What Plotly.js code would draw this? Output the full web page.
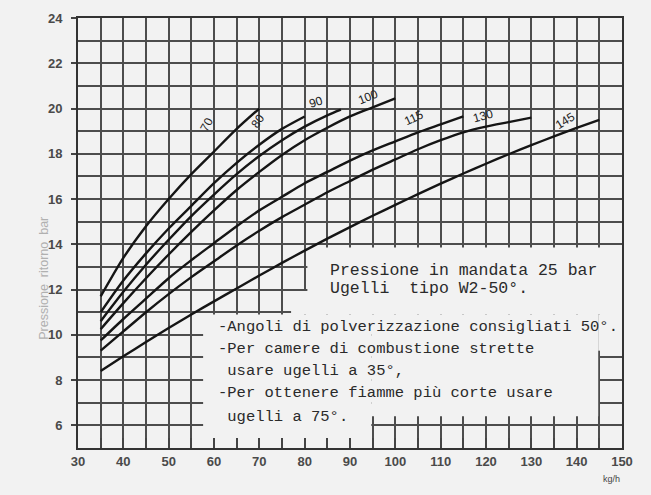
<!DOCTYPE html>
<html>
<head>
<meta charset="utf-8">
<script src="https://cdn.plot.ly/plotly-3.0.1.min.js"></script>
<style>html,body{margin:0;padding:0;background:#f2f2f2;}#chart{width:651px;height:495px;}</style>
</head>
<body>
<div id="chart"></div>
<script>
// Curve data: flow (kg/h) vs return pressure (bar), one curve per nozzle size
const curveNames = ["70", "80", "90", "100", "115", "130", "145"];
const x70  = [35, 40, 45, 50, 55, 60, 65, 70];
const y70  = [11.7, 13.4, 14.8, 16.0, 17.1, 18.1, 19.1, 20.0];
const x80  = [35, 40, 45, 50, 55, 60, 65, 70, 75, 80];
const y80  = [11.0, 12.4, 13.6, 14.7, 15.7, 16.7, 17.6, 18.4, 19.1, 19.65];
const x90  = [35, 40, 45, 50, 55, 60, 65, 70, 75, 80, 85, 88];
const y90  = [10.6, 11.9, 13.1, 14.2, 15.25, 16.2, 17.1, 17.9, 18.6, 19.2, 19.7, 19.95];
const x100 = [35, 40, 45, 50, 55, 60, 65, 70, 75, 80, 85, 90, 95, 100];
const y100 = [10.25, 11.4, 12.5, 13.55, 14.55, 15.5, 16.4, 17.2, 17.95, 18.6, 19.15, 19.65, 20.05, 20.45];
const x115 = [35, 40, 45, 50, 55, 60, 65, 70, 75, 80, 85, 90, 95, 100, 105, 110, 115];
const y115 = [9.75, 10.7, 11.6, 12.5, 13.3, 14.05, 14.8, 15.5, 16.1, 16.7, 17.2, 17.7, 18.15, 18.55, 18.95, 19.3, 19.65];
const x130 = [35, 40, 45, 50, 55, 60, 65, 70, 75, 80, 85, 90, 95, 100, 105, 110, 115, 120, 125, 130];
const y130 = [9.3, 10.15, 11.0, 11.8, 12.55, 13.25, 13.95, 14.6, 15.2, 15.75, 16.3, 16.8, 17.3, 17.75, 18.2, 18.6, 18.95, 19.2, 19.4, 19.6];
const x145 = [35, 40, 45, 50, 55, 60, 65, 70, 75, 80, 85, 90, 95, 100, 105, 110, 115, 120, 125, 130, 135, 140, 145];
const y145 = [8.4, 9.05, 9.68, 10.3, 10.9, 11.48, 12.05, 12.62, 13.18, 13.72, 14.25, 14.76, 15.26, 15.74, 16.22, 16.68, 17.13, 17.56, 17.98, 18.38, 18.77, 19.14, 19.5];

// Curve label positions (kg/h, bar) and angles
const labelX = [58.5, 69.7, 82.5, 94.0, 104.0, 119.3, 137.4];
const labelY = [19.3, 19.45, 20.3, 20.5, 19.6, 19.65, 19.45];
const labelAngle = [-62, -55, -18, -22, -25, -15, -32];

// Tick labels
const xTicks = [30, 40, 50, 60, 70, 80, 90, 100, 110, 120, 130, 140, 150];
const yTicks = [6, 8, 10, 12, 14, 16, 18, 20, 22, 24];

// Notes
const noteTop = ["Pressione in mandata 25 bar", "Ugelli  tipo W2-50°."];
const noteBottom = ["-Angoli di polverizzazione consigliati 50°.",
                    "-Per camere di combustione strette",
                    " usare ugelli a 35°,",
                    "-Per ottenere fiamme più corte usare",
                    " ugelli a 75°."];

const xs = [x70, x80, x90, x100, x115, x130, x145];
const ys = [y70, y80, y90, y100, y115, y130, y145];

const traces = xs.map((x, i) => ({
  x: x, y: ys[i], type: 'scatter', mode: 'lines', name: curveNames[i],
  line: {color: '#151515', width: 2.4, shape: 'spline', smoothing: 0.7},
  hoverinfo: 'skip'
}));

const gridCol = '#4d4d4d';
const bg = '#f2f2f2';
const annotations = [];
curveNames.forEach((n, i) => annotations.push({
  x: labelX[i], y: labelY[i], xref: 'x', yref: 'y', text: n, showarrow: false,
  textangle: labelAngle[i], font: {family: 'Liberation Sans, Arial', size: 12, color: '#222'}
}));
const topY = [12.84, 12.03];
noteTop.forEach((t, i) => annotations.push({
  x: 85.2, y: topY[i], xref: 'x', yref: 'y', xanchor: 'left', yanchor: 'middle',
  text: t.replace(/ /g, '&nbsp;'), showarrow: false,
  font: {family: 'Liberation Mono, Courier New, monospace', size: 16.5, color: '#2a2a2a'}
}));
const botY = [10.36, 9.39, 8.42, 7.41, 6.39];
noteBottom.forEach((t, i) => annotations.push({
  x: 60.4, y: botY[i], xref: 'x', yref: 'y', xanchor: 'left', yanchor: 'middle',
  text: t.replace(/ /g, '&nbsp;'), showarrow: false,
  font: {family: 'Liberation Mono, Courier New, monospace', size: 15.5, color: '#2a2a2a'}
}));
annotations.push({x: 1.0, y: -0.088, xref: 'paper', yref: 'paper', text: 'kg/h', showarrow: false,
  font: {family: 'Liberation Sans, Arial', size: 9, color: '#444'}});
annotations.push({x: -0.078, y: 0.395, xref: 'paper', yref: 'paper', text: 'Pressione  ritorno  bar', showarrow: false,
  textangle: -90, font: {family: 'Liberation Sans, Arial', size: 12.5, color: '#b0b0b0'}});

function blank(x0, x1, y0, y1) {
  return {type: 'rect', xref: 'x', yref: 'y', x0: x0, x1: x1, y0: y0, y1: y1,
    fillcolor: bg, line: {width: 0}, layer: 'between'};
}
const shapes = [
  blank(57.6, 94.7, 5.0, 10.9),
  blank(94.7, 144.75, 6.4, 10.9),
  blank(144.75, 150, 9.3, 10.9),
  blank(77, 150, 10.9, 11.94),
  blank(80.6, 150, 11.94, 13.86)
];

const tickFont = {family: 'Liberation Sans, Arial', size: 13, color: '#4a4a4a', weight: 'bold'};
const layout = {
  width: 651, height: 495,
  margin: {l: 78, r: 29, t: 18, b: 47},
  paper_bgcolor: bg, plot_bgcolor: bg,
  showlegend: false,
  xaxis: {
    range: [30, 150], tickvals: xTicks, ticktext: xTicks.map(String),
    showgrid: true, gridcolor: gridCol, gridwidth: 2,
    minor: {dtick: 5, tick0: 30, showgrid: true, gridcolor: gridCol, gridwidth: 2,
            ticks: 'inside', ticklen: 10, tickwidth: 2, tickcolor: '#444'},
    ticks: 'inside', ticklen: 10, tickwidth: 2, tickcolor: '#444',
    showline: true, linecolor: '#333', linewidth: 2, mirror: true, zeroline: false,
    tickfont: tickFont
  },
  yaxis: {
    range: [5, 24], tickvals: yTicks, ticktext: yTicks.map(String),
    showgrid: true, gridcolor: gridCol, gridwidth: 2,
    minor: {dtick: 1, tick0: 5, showgrid: true, gridcolor: gridCol, gridwidth: 2},
    ticks: 'outside', ticklen: 5, tickwidth: 2, tickcolor: '#444',
    ticklabelstandoff: 6,
    showline: true, linecolor: '#333', linewidth: 2, mirror: true, zeroline: false,
    tickfont: tickFont
  },
  annotations: annotations,
  shapes: shapes
};

Plotly.newPlot('chart', traces, layout, {staticPlot: true, displayModeBar: false});
</script>
</body>
</html>
